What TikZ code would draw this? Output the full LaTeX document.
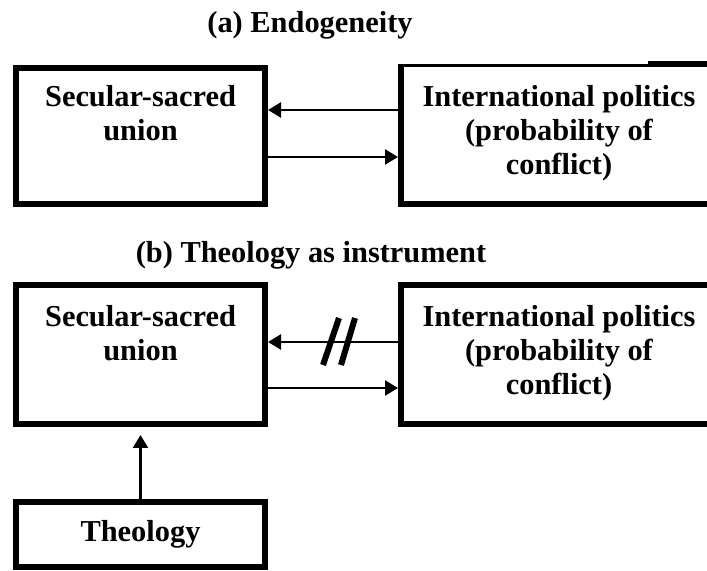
\documentclass[tikz,border=0pt]{standalone}
\usepackage{fontspec}
\setmainfont{Liberation Serif}
\usetikzlibrary{positioning,arrows.meta}
\tikzset{
	box/.style={draw, line width=3pt, inner sep=0pt},
	txt/.style={font=\fontsize{15.2}{17}\selectfont\bfseries, align=center, inner sep=0pt},
	arr/.style={line width=1.25pt, -{Triangle[length=6.5pt,width=7.5pt]}}
}
\begin{document}
\begin{tikzpicture}[x=0.5pt, y=-0.5pt]
	\clip (0,0) rectangle (707,571);
	\node[txt, anchor=base] (ta) at (310,33) {(a) Endogeneity};
	\node[box, minimum width=124.5pt, minimum height=68pt] (sa1) at (140.5,136) {};
	\node[txt, below=9.85pt of sa1.north] (sl1) {Secular-sacred\\union};
	\node[minimum width=158pt, minimum height=68pt, inner sep=0pt, outer sep=0pt] (ip1) at (559,136) {};
	\draw[line width=3pt] ([yshift=2pt]ip1.north west) -- (ip1.south west) -- (ip1.south east) -- (ip1.north east);
	\draw[line width=1.25pt] ([yshift=1.25pt]ip1.north west) -- ([yshift=1.25pt]ip1.north east);
	\fill (648,61) rectangle (720,67);
	\node[txt, below=8.35pt of ip1.north] (il1) {International politics\\(probability of\\conflict)};
	\draw[arr] ([yshift=13pt]ip1.west) -- ([yshift=13pt]sa1.east);
	\draw[arr, shorten >=1.5pt] ([yshift=-10.5pt]sa1.east) -- ([yshift=-10.5pt]ip1.west);

	\node[txt, anchor=base] (tb) at (311,263) {(b) Theology as instrument};
	\node[box, minimum width=124.5pt, minimum height=69.5pt] (sa2) at (140.5,354.5) {};
	\node[txt, below=11.35pt of sa2.north] (sl2) {Secular-sacred\\union};
	\node[box, minimum width=158pt, minimum height=69.5pt] (ip2) at (559,354.5) {};
	\node[txt, below=11.35pt of ip2.north] (il2) {International politics\\(probability of\\conflict)};
	\node[txt, box, minimum width=124.5pt, minimum height=32.5pt] (th) at (140.5,534.5) {Theology};
	\draw[arr] ([yshift=6.25pt]ip2.west) -- ([yshift=6.25pt]sa2.east);
	\draw[arr] ([yshift=-16.75pt]sa2.east) -- ([yshift=-16.75pt]ip2.west);
	\draw[line width=3pt] (323,365) -- (339,318);
	\draw[line width=3pt] (341,365) -- (355,318);
	\draw[arr, shorten >=4pt] (th) -- (sa2);
\end{tikzpicture}
\end{document}
